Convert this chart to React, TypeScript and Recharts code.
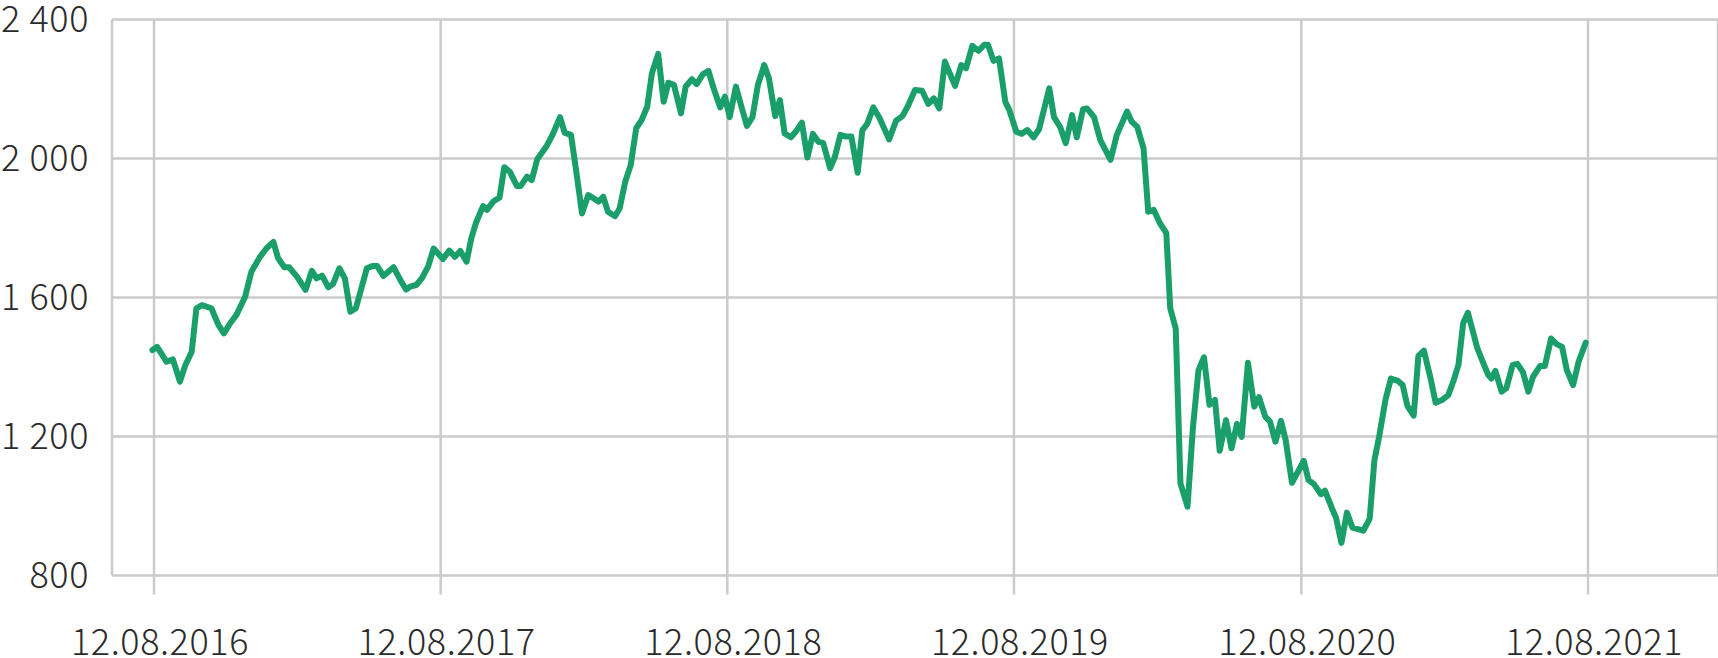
import React from "react";
import { LineChart, Line, XAxis, YAxis, CartesianGrid } from "recharts";

const dates: string[] = [
  "2016-08-10","2016-08-16","2016-08-28","2016-09-05","2016-09-14","2016-09-21","2016-09-29","2016-10-05","2016-10-12","2016-10-24",
  "2016-11-02","2016-11-09","2016-11-17","2016-11-25","2016-12-06","2016-12-14","2016-12-25","2017-01-02","2017-01-11","2017-01-17",
  "2017-01-25","2017-01-31","2017-02-10","2017-02-21","2017-03-01","2017-03-07","2017-03-14","2017-03-22","2017-03-28","2017-04-05",
  "2017-04-12","2017-04-19","2017-04-26","2017-05-03","2017-05-10","2017-05-18","2017-05-23","2017-05-31","2017-06-13","2017-06-23",
  "2017-06-29","2017-07-04","2017-07-12","2017-07-19","2017-07-27","2017-08-03","2017-08-15","2017-08-23","2017-08-30","2017-09-06",
  "2017-09-14","2017-09-20","2017-09-26","2017-10-05","2017-10-10","2017-10-18","2017-10-26","2017-11-01","2017-11-08","2017-11-17",
  "2017-11-22","2017-11-30","2017-12-06","2017-12-13","2017-12-25","2018-01-02","2018-01-11","2018-01-17","2018-01-25","2018-02-01",
  "2018-02-08","2018-02-16","2018-03-01","2018-03-07","2018-03-13","2018-03-22","2018-03-28","2018-04-04","2018-04-11","2018-04-18",
  "2018-04-25","2018-05-02","2018-05-08","2018-05-16","2018-05-23","2018-05-29","2018-06-05","2018-06-14","2018-06-20","2018-06-28",
  "2018-07-04","2018-07-12","2018-07-19","2018-07-26","2018-08-03","2018-08-09","2018-08-15","2018-08-23","2018-08-30","2018-09-06",
  "2018-09-13","2018-09-20","2018-09-28","2018-10-04","2018-10-12","2018-10-18","2018-10-24","2018-11-01","2018-11-07","2018-11-15",
  "2018-11-22","2018-11-29","2018-12-06","2018-12-12","2018-12-21","2018-12-27","2019-01-03","2019-01-10","2019-01-17","2019-01-25",
  "2019-01-31","2019-02-06","2019-02-14","2019-02-22","2019-03-06","2019-03-15","2019-03-23","2019-03-30","2019-04-08","2019-04-17",
  "2019-04-25","2019-05-02","2019-05-09","2019-05-16","2019-05-29","2019-06-06","2019-06-12","2019-06-20","2019-06-28","2019-07-05",
  "2019-07-10","2019-07-17","2019-07-24","2019-08-01","2019-08-06","2019-08-15","2019-08-22","2019-08-29","2019-09-06","2019-09-13",
  "2019-09-26","2019-10-02","2019-10-10","2019-10-17","2019-10-25","2019-10-31","2019-11-08","2019-11-13","2019-11-22","2019-11-30",
  "2019-12-13","2019-12-21","2020-01-03","2020-01-09","2020-01-16","2020-01-24","2020-01-30","2020-02-06","2020-02-14","2020-02-22",
  "2020-02-27","2020-03-05","2020-03-11","2020-03-20","2020-03-27","2020-04-03","2020-04-10","2020-04-17","2020-04-24","2020-04-30",
  "2020-05-08","2020-05-15","2020-05-22","2020-05-28","2020-06-05","2020-06-13","2020-06-19","2020-06-27","2020-07-03","2020-07-10",
  "2020-07-17","2020-07-23","2020-07-31","2020-08-15","2020-08-21","2020-08-28","2020-09-06","2020-09-11","2020-09-20","2020-09-25",
  "2020-10-02","2020-10-09","2020-10-16","2020-10-30","2020-11-07","2020-11-13","2020-11-19","2020-11-27","2020-12-04","2020-12-13",
  "2020-12-19","2020-12-25","2021-01-02","2021-01-08","2021-01-15","2021-01-23","2021-01-30","2021-02-07","2021-02-15","2021-02-22",
  "2021-02-28","2021-03-06","2021-03-12","2021-03-18","2021-03-24","2021-03-31","2021-04-07","2021-04-11","2021-04-16","2021-04-24",
  "2021-04-30","2021-05-08","2021-05-14","2021-05-21","2021-05-28","2021-06-03","2021-06-12","2021-06-18","2021-06-26","2021-07-03",
  "2021-07-10","2021-07-16","2021-07-24","2021-07-31","2021-08-09"
];

const values: number[] = [
  1449,1458,1415,1422,1358,1406,1444,1569,1578,1569,
  1521,1497,1526,1550,1602,1674,1717,1741,1760,1713,
  1687,1687,1660,1622,1677,1655,1663,1629,1639,1684,
  1655,1559,1569,1626,1684,1691,1691,1662,1687,1645,
  1623,1631,1636,1655,1689,1741,1711,1735,1717,1734,
  1703,1770,1815,1863,1852,1876,1888,1975,1962,1921,
  1921,1948,1938,1998,2036,2071,2119,2074,2068,1957,
  1842,1895,1876,1890,1847,1834,1857,1933,1981,2087,
  2111,2149,2245,2301,2163,2218,2212,2130,2207,2228,
  2214,2243,2252,2199,2147,2178,2119,2207,2149,2094,
  2119,2212,2269,2231,2122,2168,2072,2061,2077,2103,
  2003,2071,2048,2045,1972,2005,2068,2063,2063,1959,
  2082,2099,2147,2116,2055,2109,2122,2151,2197,2195,
  2157,2173,2144,2279,2209,2269,2260,2324,2310,2327,
  2327,2281,2288,2163,2140,2077,2071,2082,2061,2084,
  2202,2119,2090,2044,2125,2061,2142,2144,2119,2053,
  1996,2068,2135,2106,2091,2029,1847,1852,1813,1785,
  1569,1511,1065,998,1228,1391,1428,1291,1305,1159,
  1247,1166,1236,1199,1412,1286,1313,1257,1243,1185,
  1245,1190,1067,1130,1075,1063,1034,1044,993,967,
  894,981,938,929,964,1132,1199,1305,1367,1360,
  1348,1288,1260,1432,1447,1372,1297,1305,1319,1362,
  1406,1526,1556,1506,1454,1415,1377,1367,1389,1329,
  1339,1406,1409,1386,1329,1372,1403,1403,1482,1466,
  1458,1391,1348,1415,1470
];

const xTickDates: string[] = ["2016-08-12","2017-08-12","2018-08-12","2019-08-12","2020-08-12","2021-08-12"];
const xTickLabels: string[] = ["12.08.2016","12.08.2017","12.08.2018","12.08.2019","12.08.2020","12.08.2021"];
const xDomainDates: string[] = ["2016-06-19T12:00:00Z","2022-01-24T12:00:00Z"];
const yTicks: number[] = [800, 1200, 1600, 2000, 2400];
const yTickLabels: string[] = ["800","1 200","1 600","2 000","2 400"];

const toTime = (s: string) => Date.parse(s.length === 10 ? s + "T00:00:00Z" : s);
const data = dates.map((d, i) => ({ t: toTime(d), v: values[i] }));
const xTickTimes = xTickDates.map(toTime);
const xDomain = xDomainDates.map(toTime);

const FONT = "'Noto Sans CJK SC', 'Noto Sans', sans-serif";
const TEXT_COLOR = "#2b2b2b";
const GRID = "#cbcbcb";

const XTick = (props: any) => {
  const { x, y, payload } = props;
  const idx = xTickTimes.indexOf(payload.value);
  return (
    <text x={x + 6} y={y} dy="0.71em" textAnchor="middle" fill={TEXT_COLOR}
      fontSize={36} letterSpacing={0.6} fontFamily={FONT} fontWeight={300}>
      {idx >= 0 ? xTickLabels[idx] : ""}
    </text>
  );
};

const YTick = (props: any) => {
  const { x, y, payload } = props;
  const idx = yTicks.indexOf(payload.value);
  return (
    <text x={x} y={y} dy="0.355em" textAnchor="end" fill={TEXT_COLOR}
      fontSize={36} letterSpacing={0.6} fontFamily={FONT} fontWeight={300}>
      {idx >= 0 ? yTickLabels[idx] : ""}
    </text>
  );
};

export default function App() {
  return (
    <div style={{ position: "absolute", left: 0, top: 0, width: 1718, height: 658, background: "#fff" }}>
      <LineChart width={1718} height={658} data={data}
        margin={{ top: 19.5, right: 0, bottom: 0, left: 0 }}>
        <CartesianGrid stroke={GRID} strokeWidth={2.5} />
        <XAxis dataKey="t" type="number" scale="time" domain={xDomain} ticks={xTickTimes}
          allowDataOverflow height={82.5} axisLine={false}
          tickLine={{ stroke: GRID, strokeWidth: 2.5 }} tickSize={19} tickMargin={35}
          tick={<XTick />} interval={0} />
        <YAxis type="number" domain={[800, 2400]} ticks={yTicks} width={112}
          axisLine={false} tickLine={false} tickSize={0} tickMargin={23}
          tick={<YTick />} interval={0} />
        <Line type="linear" dataKey="v" stroke="#1a9e6a" strokeWidth={6}
          dot={false} activeDot={false} isAnimationActive={false}
          strokeLinejoin="round" strokeLinecap="round" />
      </LineChart>
    </div>
  );
}
